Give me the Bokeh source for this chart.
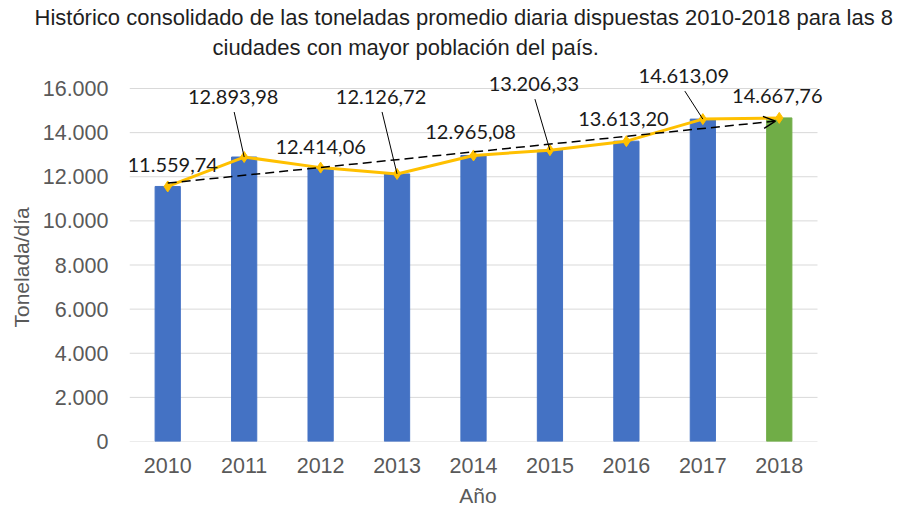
import numpy as np
from bokeh.plotting import figure
from bokeh.models import (ColumnDataSource, FixedTicker, Title, LabelSet, Arrow, OpenHead)
from bokeh.core.properties import value
from bokeh.embed import file_html
from bokeh.resources import INLINE

years = ["2010", "2011", "2012", "2013", "2014", "2015", "2016", "2017", "2018"]
toneladas = [11559.74, 12893.98, 12414.06, 12126.72, 12965.08, 13206.33, 13613.20, 14613.09, 14667.76]
y_ticks = [0, 2000, 4000, 6000, 8000, 10000, 12000, 14000, 16000]

title_1 = "Histórico consolidado de las toneladas promedio diaria dispuestas 2010-2018 para las 8"
title_2 = "ciudades con mayor población del país."
y_label = "Tonelada/día"
x_label = "Año"

def fmt_es(v, dec=2):
    s = f"{v:,.{dec}f}"
    return s.replace(",", "#").replace(".", ",").replace("#", ".")

W, H = 906, 510
BL, BB = 129, 69
GRID_RIGHT = 817       # pixel column where the gridlines end
BR = 80                # frame extends a little past the gridlines for the last label
GRID_TOP = 88          # pixel row of the 16.000 gridline
FT = 62                # frame top (extra head-room for data labels)
n = len(years)
xs = list(range(n))
Y_MAX = 16000
px_x = n / (GRID_RIGHT - BL)
px_y = Y_MAX / (H - BB - GRID_TOP)
y_end = Y_MAX + (GRID_TOP - FT) * px_y
x_end = n - 0.5 + (W - BR - GRID_RIGHT) * px_x

p = figure(width=W, height=H, output_backend="svg", toolbar_location=None,
           x_range=(-0.5, x_end), y_range=(0, y_end),
           min_border_left=BL, min_border_right=BR, min_border_top=FT, min_border_bottom=BB)
p.background_fill_color = "white"
p.border_fill_color = "white"
p.outline_line_color = None

# two-line title (panels stack outward from the frame)
p.add_layout(Title(text=title_2, align="left", offset=83, standoff=6,
                   text_font="Liberation Sans", text_font_size="22px",
                   text_font_style="normal", text_color="#1f1f1f"), "above")
p.add_layout(Title(text=title_1, align="left", offset=-95, standoff=0,
                   text_font="Liberation Sans", text_font_size="22px",
                   text_font_style="normal", text_color="#1f1f1f"), "above")

# horizontal gridlines at the tick values, spanning the category band only
p.segment(x0=[-0.5] * len(y_ticks), x1=[n - 0.5] * len(y_ticks), y0=y_ticks, y1=y_ticks,
          line_color="#D9D9D9", line_width=1)

colors = ["#4472C4"] * (n - 1) + ["#70AD47"]
src = ColumnDataSource(dict(x=xs, y=toneladas, color=colors))
p.vbar(x="x", top="y", width=0.33, color="color", source=src)

p.line(x="x", y="y", source=src, line_color="#FFC000", line_width=3)
p.scatter(x="x", y="y", source=src, marker="diamond", size=11,
          fill_color="#FFC000", line_color="#FFC000")

# linear trendline (Excel-style) computed from the series
coef = np.polyfit(xs, toneladas, 1)
t_start = coef[1]
t_end = coef[0] * (n - 1) + coef[1]
p.add_layout(Arrow(end=OpenHead(size=12, line_color="black", line_width=1.5),
                   x_start=0, y_start=t_start, x_end=n - 1 - 0.05, y_end=t_end,
                   line_color="black", line_width=1.5, line_dash="9 5"))

# data labels, offsets in screen pixels (dx right, dy up)
lab_dx = [5, -11, 0, -16, -3, -16, -3, -19, -2]
lab_dy = [21, 60, 21, 77, 23, 66, 22, 43, 22]
leader = [False, True, False, True, False, True, False, True, False]
lsrc = ColumnDataSource(dict(x=xs, y=toneladas, dx=lab_dx, dy=lab_dy,
                             text=[fmt_es(v) for v in toneladas]))
p.add_layout(LabelSet(x="x", y="y", text="text", x_offset="dx", y_offset="dy", source=lsrc,
                      text_align="center", text_baseline="middle",
                      text_font=value("Lato"), text_font_size=value("20px"),
                      text_color="#1a1a1a"))

sx0, sy0, sx1, sy1 = [], [], [], []
for i in range(n):
    if leader[i]:
        sx0.append(xs[i] + (lab_dx[i] + 1) * px_x)
        sy0.append(toneladas[i] + (lab_dy[i] - 15) * px_y)
        sx1.append(xs[i])
        sy1.append(toneladas[i])
p.segment(x0=sx0, y0=sy0, x1=sx1, y1=sy1, line_color="black", line_width=1)

# axes
p.xaxis.ticker = FixedTicker(ticks=xs)
p.xaxis.major_label_overrides = {i: y for i, y in enumerate(years)}
p.yaxis.ticker = FixedTicker(ticks=y_ticks)
p.yaxis.major_label_overrides = {t: fmt_es(t, 0) for t in y_ticks}
for ax in (p.xaxis[0], p.yaxis[0]):
    ax.major_tick_line_color = None
    ax.major_tick_out = 0
    ax.major_tick_in = 0
    ax.minor_tick_line_color = None
    ax.axis_line_color = None
    ax.major_label_text_font = "Liberation Sans"
    ax.major_label_text_font_size = "21.5px"
    ax.major_label_text_color = "#595959"
    ax.axis_label_text_font = "Liberation Sans"
    ax.axis_label_text_font_size = "21px"
    ax.axis_label_text_font_style = "normal"
    ax.axis_label_text_color = "#595959"
p.xaxis.axis_label = x_label
p.xaxis.major_label_standoff = 16
p.xaxis.axis_label_standoff = 8
p.yaxis.major_label_standoff = 21

# y-axis title, centred on the 0..16.000 span of the axis
ylab_len = 125
p.add_layout(Title(text=y_label, align="left",
                   offset=(H - BB - GRID_TOP) / 2 - ylab_len / 2, standoff=14,
                   text_font="Liberation Sans", text_font_size="21px",
                   text_font_style="normal", text_color="#595959"), "left")

p.xgrid.grid_line_color = None
p.ygrid.grid_line_color = None

open("out.html", "w").write(file_html(p, INLINE))
